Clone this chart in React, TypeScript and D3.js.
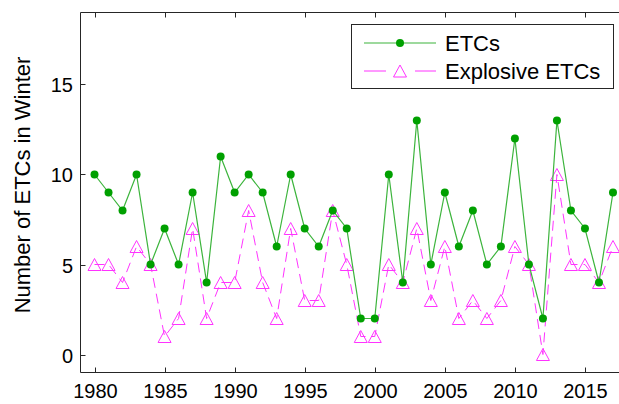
import React, { useEffect, useRef } from "react";
import * as d3 from "d3";

const years = d3.range(1980, 2018);
const etcs = [10, 9, 8, 10, 5, 7, 5, 9, 4, 11, 9, 10, 9, 6, 10, 7, 6, 8, 7, 2, 2, 10, 4, 13, 5, 9, 6, 8, 5, 6, 12, 5, 2, 13, 8, 7, 4, 9];
const explosive = [5, 5, 4, 6, 5, 1, 2, 7, 2, 4, 4, 8, 4, 2, 7, 3, 3, 8, 5, 1, 1, 5, 4, 7, 3, 6, 2, 3, 2, 3, 6, 5, 0, 10, 5, 5, 4, 6];
const xTicks = [1980, 1985, 1990, 1995, 2000, 2005, 2010, 2015];
const yTicks = [0, 5, 10, 15];
const legendLabels = ["ETCs", "Explosive ETCs"];

const GREEN_LINE = "#3cb43c";
const GREEN_MARK = "#00a000";
const MAGENTA = "#ff33ff";
const AXIS = "#262626";
const FONT = "'Liberation Sans', Arial, sans-serif";

const App = () => {
  const svgRef = useRef(null);

  useEffect(() => {
    const svg = d3.select(svgRef.current);
    svg.selectAll("*").remove();

    const left = 80.5, top = 12.5, right = 627, bottom = 372.5;
    const x = d3.scaleLinear().domain([1979, 2018]).range([left, right]);
    const y = d3.scaleLinear().domain([-1, 19]).range([bottom, top]);

    const tri = (cx, cy) => `M${cx},${cy - 6}L${cx + 6.5},${cy + 6}L${cx - 6.5},${cy + 6}Z`;

    // axes box
    svg.append("path")
      .attr("d", `M${right},${top}H${left}V${bottom}H${right}`)
      .attr("fill", "none").attr("stroke", AXIS).attr("stroke-width", 1);

    const g = svg.append("g");
    xTicks.forEach((t) => {
      const px = Math.round(x(t)) + 0.5;
      g.append("line").attr("x1", px).attr("x2", px).attr("y1", bottom).attr("y2", bottom - 5).attr("stroke", AXIS);
      g.append("line").attr("x1", px).attr("x2", px).attr("y1", top).attr("y2", top + 5).attr("stroke", AXIS);
      g.append("text").text(t).attr("x", px).attr("y", 398)
        .attr("text-anchor", "middle").attr("font-size", 20).attr("font-family", FONT).attr("fill", "#000");
    });
    yTicks.forEach((t) => {
      const py = Math.round(y(t)) + 0.5;
      g.append("line").attr("x1", left).attr("x2", left + 5).attr("y1", py).attr("y2", py).attr("stroke", AXIS);
      g.append("text").text(t).attr("x", 73).attr("y", py).attr("dy", "0.36em")
        .attr("text-anchor", "end").attr("font-size", 20).attr("font-family", FONT).attr("fill", "#000");
    });

    svg.append("text").text("Number of ETCs in Winter")
      .attr("transform", `translate(30,185) rotate(-90)`)
      .attr("text-anchor", "middle").attr("font-size", 22).attr("font-family", FONT).attr("fill", "#000");

    const lineOf = (vals) => d3.line().x((d, i) => x(years[i])).y((d) => y(d))(vals);

    // explosive series
    svg.append("path").attr("d", lineOf(explosive))
      .attr("fill", "none").attr("stroke", MAGENTA).attr("stroke-width", 1).attr("stroke-dasharray", "10,6");
    svg.append("g").selectAll("path").data(explosive).enter().append("path")
      .attr("d", (d, i) => tri(x(years[i]), y(d)))
      .attr("fill", "none").attr("stroke", MAGENTA).attr("stroke-width", 1);

    // ETC series
    svg.append("path").attr("d", lineOf(etcs))
      .attr("fill", "none").attr("stroke", GREEN_LINE).attr("stroke-width", 1.2);
    svg.append("g").selectAll("circle").data(etcs).enter().append("circle")
      .attr("cx", (d, i) => x(years[i])).attr("cy", (d) => y(d)).attr("r", 4)
      .attr("fill", GREEN_MARK);

    // legend
    const lg = svg.append("g");
    lg.append("rect").attr("x", 351.5).attr("y", 24.5).attr("width", 262).attr("height", 64)
      .attr("fill", "#fff").attr("stroke", AXIS);
    lg.append("line").attr("x1", 364).attr("x2", 436).attr("y1", 43).attr("y2", 43)
      .attr("stroke", GREEN_LINE).attr("stroke-width", 1.2);
    lg.append("circle").attr("cx", 400).attr("cy", 43).attr("r", 4).attr("fill", GREEN_MARK);
    lg.append("line").attr("x1", 364).attr("x2", 436).attr("y1", 71).attr("y2", 71)
      .attr("stroke", MAGENTA).attr("stroke-dasharray", "22,29");
    lg.append("path").attr("d", tri(400, 71)).attr("fill", "none").attr("stroke", MAGENTA);
    legendLabels.forEach((l, i) => {
      lg.append("text").text(l).attr("x", 445).attr("y", i === 0 ? 43 : 71).attr("dy", "0.36em")
        .attr("font-size", 22).attr("font-family", FONT).attr("fill", "#000");
    });
  }, []);

  return (
    <svg ref={svgRef} width="619" height="404" style={{ position: "absolute", left: 0, top: 0, background: "#fff" }}></svg>
  );
};

export default App;
